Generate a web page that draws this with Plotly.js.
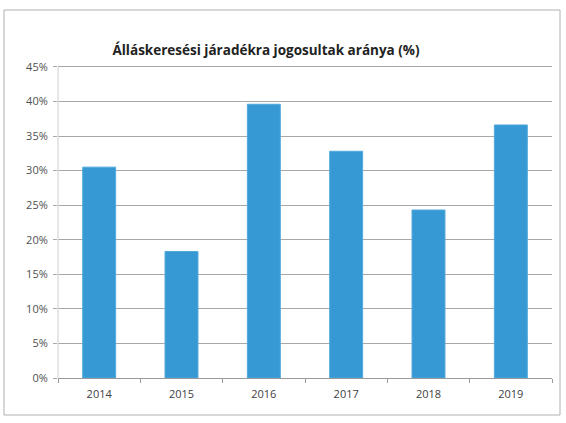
<!DOCTYPE html>
<html><head><meta charset="utf-8">
<script src="https://cdn.plot.ly/plotly-3.0.1.min.js"></script>
<style>html,body{margin:0;padding:0;background:#fff;}#chart{width:566px;height:423px;}</style>
</head><body><div id="chart"></div>
<script>
const years = ['2014','2015','2016','2017','2018','2019'];
const shares = [30.5, 18.3, 39.6, 32.8, 24.3, 36.6];
const yTicks = [0,5,10,15,20,25,30,35,40,45];
const yTickLabels = ['0%','5%','10%','15%','20%','25%','30%','35%','40%','45%'];
const titleText = 'Álláskeresési járadékra jogosultak aránya (%)';

const W = 566, H = 423;
const m = {l:58, r:14, t:60, b:45};
const pw = W - m.l - m.r, ph = H - m.t - m.b;
function px(x){return (x - m.l)/pw;}
function py(y){return (H - m.b - y)/ph;}

Plotly.newPlot('chart', [{
  type:'bar', x: years, y: shares,
  marker:{color:'#3799d3', line:{color:'#52a9dc', width:1}},
  hoverinfo:'none'
}], {
  width: W, height: H,
  margin: m,
  paper_bgcolor:'#fff', plot_bgcolor:'#fff',
  bargap: 0.6,
  showlegend:false,
  title:{text: titleText, x:0.47, xanchor:'center', y: 1 - 50/H, yanchor:'middle',
    font:{family:'Open Sans, sans-serif', size:13.5, color:'#222', weight:'bold'}},
  xaxis:{type:'category', showgrid:false, showline:true, linecolor:'#9a9a9a', linewidth:1,
    ticks:'outside', tickson:'boundaries', ticklen:4, tickcolor:'#9a9a9a',
    tickfont:{family:'Open Sans, sans-serif', size:11, color:'#404040'}, ticklabelstandoff:6},
  yaxis:{range:[0,46], tickvals:yTicks, ticktext:yTickLabels, showgrid:true, gridcolor:'#a8a8a8', gridwidth:1,
    zeroline:false, showline:false, ticks:'outside', ticklen:4, tickcolor:'#a8a8a8',
    tickfont:{family:'Open Sans, sans-serif', size:11, color:'#505050'}, ticklabelstandoff:3},
  shapes:[
    {type:'line', xref:'x domain', yref:'y', x0:0, x1:0, y0:0, y1:45, line:{color:'#d0d0d0', width:1}},
    {type:'rect', xref:'paper', yref:'paper', x0:px(4), x1:px(560), y0:py(415), y1:py(10),
    line:{color:'#b0b0b0', width:1}, fillcolor:'rgba(0,0,0,0)', layer:'below'}]
}, {staticPlot:true});
</script></body></html>
